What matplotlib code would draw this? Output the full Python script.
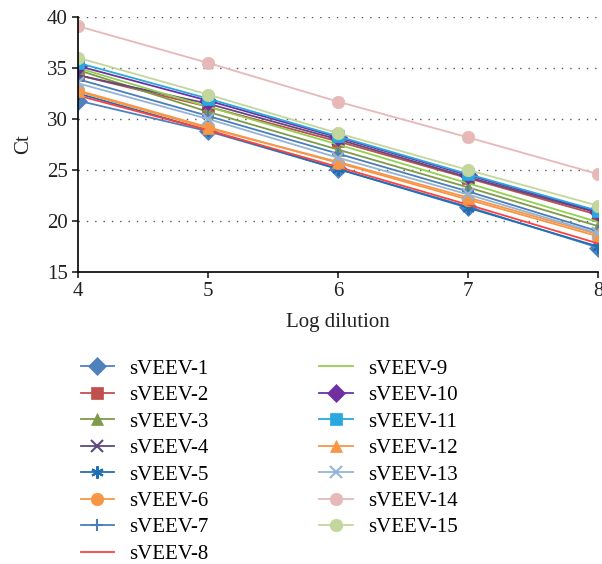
import matplotlib.pyplot as plt

plt.rcParams['font.family'] = ['Liberation Serif', 'DejaVu Serif']

log_dilution = [4, 5, 6, 7, 8]
names = ["sVEEV-" + str(i) for i in range(1, 16)]

# Ct values, one list per sample
ct_1 = [31.8, 28.8, 25.1, 21.4, 17.4]
ct_2 = [34.3, 31.2, 27.8, 24.2, 20.6]
ct_3 = [34.8, 30.7, 27.0, 23.3, 19.5]
ct_4 = [34.3, 31.5, 28.0, 24.3, 20.8]
ct_5 = [32.5, 28.9, 25.1, 21.3, 17.5]
ct_6 = [32.8, 29.2, 25.7, 22.1, 18.5]
ct_7 = [33.9, 30.3, 26.6, 22.9, 19.0]
ct_8 = [32.3, 28.9, 25.3, 21.6, 17.8]
ct_9 = [35.0, 31.2, 27.5, 23.7, 19.9]
ct_10 = [35.2, 31.8, 28.2, 24.5, 20.9]
ct_11 = [35.5, 32.0, 28.3, 24.6, 21.0]
ct_12 = [32.7, 29.1, 25.8, 22.3, 18.7]
ct_13 = [33.5, 30.0, 26.2, 22.6, 18.8]
ct_14 = [39.1, 35.5, 31.7, 28.2, 24.6]
ct_15 = [36.0, 32.4, 28.6, 25.0, 21.5]
series = [ct_1, ct_2, ct_3, ct_4, ct_5, ct_6, ct_7, ct_8,
          ct_9, ct_10, ct_11, ct_12, ct_13, ct_14, ct_15]

colors = ['#4F81BD', '#C0504D', '#7F9A48', '#604A7B', '#1F6FB5', '#F79646',
          '#4A7EBB', '#FF4040', '#92D050', '#7030A0', '#29A8E0', '#F79646',
          '#95B3D7', '#E6B9B8', '#C3D69B']
markers = ['D', 's', '^', 'x', (6, 2, 0), 'o', '+', None, None, 'D', 's', '^',
           'x', 'o', 'o']

fig = plt.figure(figsize=(6.02, 5.64), dpi=100)
ax = fig.add_axes([0.1296, 0.5177, 0.8638, 0.4522])

for name, vals, c, m in zip(names, series, colors, markers):
    ax.plot(log_dilution, vals, color=c, marker=m, markersize=9, lw=1.3,
            markeredgewidth=1.5 if m in ('x', '+', (6, 2, 0)) else 0.5,
            label=name)

ax.set_xlim(4, 8)
ax.set_ylim(15, 40)
ax.set_xticks(log_dilution)
ax.set_yticks([15, 20, 25, 30, 35, 40])
ax.grid(axis='y', linestyle=(0, (1, 5)), color='#555555', lw=1)
ax.set_axisbelow(True)
for s in ['top', 'right']:
    ax.spines[s].set_visible(False)
ax.spines['left'].set_linewidth(1.2)
ax.spines['bottom'].set_linewidth(1.2)
ax.tick_params(labelsize=15, direction='out', length=4, width=1.2, colors='#222222')
ax.set_xlabel("Log dilution", fontsize=15, labelpad=8, color='#222222')
ax.set_ylabel("Ct", fontsize=15, labelpad=10, color='#222222')

fig.legend(loc='upper left', bbox_to_anchor=(0.12, 0.378), ncol=2, frameon=False,
           fontsize=15, handlelength=1.6, labelspacing=0.33, columnspacing=5.3,
           handletextpad=0.75, borderaxespad=0)

fig.savefig("out.png", dpi=100)
